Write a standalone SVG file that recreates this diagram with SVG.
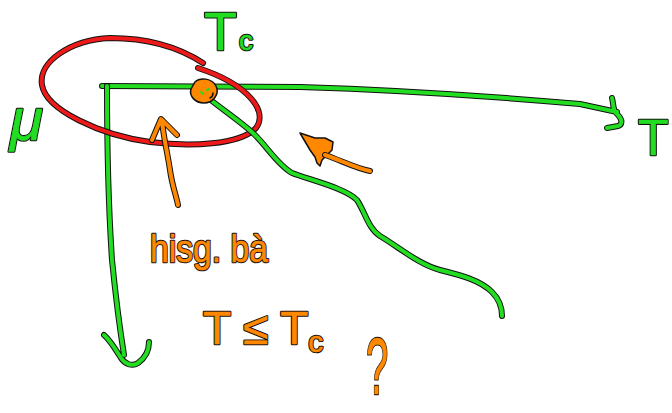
<svg xmlns="http://www.w3.org/2000/svg" width="672" height="413" viewBox="0 0 672 413">
<style>
.k{fill:none;stroke:#111;stroke-width:6;stroke-linecap:round;stroke-linejoin:round}
.g{fill:none;stroke:#22dd22;stroke-width:4;stroke-linecap:round;stroke-linejoin:round}
.r{fill:none;stroke:#ee1a1a;stroke-width:4;stroke-linecap:round;stroke-linejoin:round}
.o{fill:none;stroke:#ff8800;stroke-width:4;stroke-linecap:round;stroke-linejoin:round}
.tk{font-family:"Liberation Sans",Arial,sans-serif;fill:#111;stroke:#111;stroke-width:2.6;stroke-linejoin:round}
.tg{font-family:"Liberation Sans",Arial,sans-serif;fill:#22dd22;stroke:#22dd22;stroke-width:0.6;stroke-linejoin:round}
.to{font-family:"Liberation Sans",Arial,sans-serif;fill:#ff8800;stroke:#ff8800;stroke-width:0.6;stroke-linejoin:round}
</style>
<rect width="672" height="413" fill="#fff"/>
<g id="connectors">
  <g id="axis-T">
    <path class="k" d="M102,86 L300,87 C400,90 500,97 580,104 L617,112 M612,98 C614,105 612,110 618,115 C623,120 622,125 618,126 L607,128"/>
    <path class="g" d="M102,86 L300,87 C400,90 500,97 580,104 L617,112 M612,98 C614,105 612,110 618,115 C623,120 622,125 618,126 L607,128"/>
  </g>
  <g id="axis-mu">
    <path class="k" d="M107,86 C107,150 108,200 112,260 C116,300 120,330 124,355 M104,335 C110,340 116,350 121,358 C125,364 132,367 138,363 C145,358 149,350 149,342"/>
    <path class="g" d="M107,86 C107,150 108,200 112,260 C116,300 120,330 124,355 M104,335 C110,340 116,350 121,358 C125,364 132,367 138,363 C145,358 149,350 149,342"/>
  </g>
</g>
<g id="ellipse">
  <path class="k" d="M203,63 C180,48 150,38 110,38 C70,40 38,62 42,85 C46,110 100,135 150,142 C190,147 240,145 256,128 C268,112 250,85 198,68"/>
  <path class="r" d="M203,63 C180,48 150,38 110,38 C70,40 38,62 42,85 C46,110 100,135 150,142 C190,147 240,145 256,128 C268,112 250,85 198,68"/>
</g>
<g id="curve">
  <path class="k" d="M212,101 C230,115 245,125 255,135 C268,148 278,165 292,173 C310,180 345,188 357,200 C365,212 368,228 380,236 C400,248 420,265 440,270 C460,275 480,280 492,292 C500,300 502,310 502,316"/>
  <path class="g" d="M212,101 C230,115 245,125 255,135 C268,148 278,165 292,173 C310,180 345,188 357,200 C365,212 368,228 380,236 C400,248 420,265 440,270 C460,275 480,280 492,292 C500,300 502,310 502,316"/>
</g>
<g id="critical-point">
  <path d="M195,82 C200,77 212,78 216,86 C220,94 213,103 204,103 C195,103 189,96 191,89 Z" fill="#ff8800" stroke="#111" stroke-width="1.5"/>
  <path d="M201,92 L203,94 M207,90 L209,89" stroke="#22dd22" stroke-width="2" stroke-linecap="round"/>
  <path d="M210,98 C212,97 213,95 213,93" stroke="#111" stroke-width="1.5" fill="none" stroke-linecap="round"/>
</g>
<g id="arrow-up">
  <path class="k" d="M178,205 C176,195 172,185 170,170 C167,150 163,135 162,120 M152,140 L161,119 L177,135"/>
  <path class="o" d="M178,205 C176,195 172,185 170,170 C167,150 163,135 162,120 M152,140 L161,119 L177,135"/>
</g>
<g id="arrow-diag">
  <path d="M300,133 L315,138 L325,138 L333,142 L332,150 L327,155 L322,160 L320,166 L317,163 L315,157 L310,150 Z" fill="#ff8800" stroke="#111" stroke-width="1.5" stroke-linejoin="round"/>
  <path class="k" d="M325,155 C340,160 355,168 370,171"/>
  <path class="o" d="M325,155 C340,160 355,168 370,171"/>
</g>
<g id="labels">
  <g id="label-Tc">
    <text class="tk" x="204" y="50" font-size="54">T<tspan font-size="28" dx="2">c</tspan></text>
    <text class="tg" x="204" y="50" font-size="54">T<tspan font-size="28" dx="2">c</tspan></text>
  </g>
  <g id="label-mu">
    <text class="tk" x="10" y="140" font-size="60" font-style="italic">μ</text>
    <text class="tg" x="10" y="140" font-size="60" font-style="italic">μ</text>
  </g>
  <g id="label-T">
    <text class="tk" x="638" y="155" font-size="50">T</text>
    <text class="tg" x="638" y="155" font-size="50">T</text>
  </g>
  <g id="label-note">
    <text class="tk" x="150" y="262" font-size="38" textLength="118" lengthAdjust="spacingAndGlyphs">hisg. bà</text>
    <text class="to" x="150" y="262" font-size="38" textLength="118" lengthAdjust="spacingAndGlyphs">hisg. bà</text>
  </g>
  <g id="label-cond">
    <text class="tk" x="203" y="344" font-size="46">T ≤ T<tspan font-size="30" dy="8">c</tspan></text>
    <text class="to" x="203" y="344" font-size="46">T ≤ T<tspan font-size="30" dy="8">c</tspan></text>
  </g>
  <g id="label-q">
    <text class="tk" transform="translate(366,394) scale(0.5,1)" font-size="80">?</text>
    <text class="to" transform="translate(366,394) scale(0.5,1)" font-size="80">?</text>
  </g>
</g>
</svg>
